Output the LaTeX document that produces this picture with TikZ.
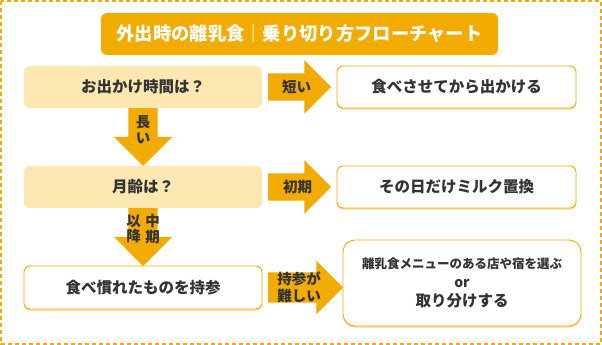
\documentclass[tikz,border=0pt]{standalone}
\usepackage{fontspec}
\setmainfont{Noto Sans CJK JP}
\usepackage{tikz}
\usetikzlibrary{positioning,shapes.arrows,calc}
\definecolor{Amber}{HTML}{F2AB00}
\definecolor{Cream}{HTML}{FDE8B1}
\definecolor{Shade}{HTML}{F8D98E}
\definecolor{Ink}{HTML}{333333}
\tikzset{
 box/.style={rounded corners=6pt,align=center,font=\fontsize{15.5}{18}\selectfont\bfseries,
   text=Ink,minimum width=238pt,minimum height=42pt,inner sep=0pt,outer sep=0pt},
 ask/.style={box,fill=Cream},
 answer/.style={box,draw=Amber,fill=white,line width=0.9pt,
   preaction={fill=Shade,transform canvas={yshift=-1.6pt}}},
 banner/.style={box,fill=Amber,text=white,font=\fontsize{18.3}{20}\selectfont\bfseries,
   minimum width=397pt},
 go/.style={single arrow,fill=Amber,draw=none,inner sep=13.5pt,outer sep=0pt,
   single arrow head extend=13pt,minimum height=63pt,anchor=tail},
 drop/.style={go,shape border rotate=270,inner sep=14.5pt,
   single arrow head extend=14.5pt,minimum height=58pt},
 tag/.style={font=\fontsize{14.5}{17}\selectfont\bfseries,text=Ink,inner sep=0pt,align=center},
 vtag/.style={tag,font=\fontsize{14.5}{15.5}\selectfont\bfseries},
 frame/.style={draw=Amber,line width=1.2pt,dash pattern=on 4pt off 3pt}
}
\begin{document}
\begin{tikzpicture}[x=1pt,y=-1pt]
\useasboundingbox (0,0) rectangle (602,345);
\draw[frame] (1,1) rectangle (601,344);
\node[banner] (head) at (299.5,34) {外出時の離乳食｜乗り切り方フローチャート};
% first question
\node[ask] (q1) at (143,87) {お出かけ時間は？};
\node[go] (a1) at ([xshift=6pt]q1.east) {};
\node[answer,minimum width=239pt,right=6pt of a1.tip] (r1) {食べさせてから出かける};
\node[tag] (t1) at ([xshift=28.5pt]a1.tail) {短い};
\node[drop] (d1) at (q1.south) {};
\node[vtag] (t4) at ([yshift=-21.5pt]d1.tail) {長\\い};
% second question
\node[ask,below=0pt of d1.tip] (q2) {月齢は？};
\node[go] (a2) at ([xshift=6pt]q2.east) {};
\node[answer,minimum width=239pt,right=6pt of a2.tip] (r2) {その日だけミルク置換};
\node[tag] (t2) at ([xshift=29.5pt]a2.tail) {初期};
\node[drop] (d2) at (q2.south) {};
\node[vtag] (t5) at ([xshift=-9.5pt,yshift=-21pt]d2.tail) {以\\降};
\node[vtag] (t6) at ([xshift=9.5pt,yshift=-21pt]d2.tail) {中\\期};
% third step
\node[answer,minimum height=43pt,below=0pt of d2.tip] (q3) {食べ慣れたものを持参};
\node[go,inner sep=15pt,single arrow head extend=11.5pt,minimum height=75pt] (a3) at ([xshift=6pt]q3.east) {};
\node[answer,minimum height=86pt,right=0pt of a3.tip,yshift=4.5pt,rounded corners=12pt,
  font=\fontsize{15.5}{19}\selectfont\bfseries] (r3)
  {{\fontsize{12.5}{19}\selectfont 離乳食メニューのある店や宿を選ぶ}\\
   {\fontsize{14}{19}\selectfont or}\\ 取り分けする};
\node[tag] (t3) at ([xshift=31pt]a3.tail) {持参が\\難しい};
\end{tikzpicture}
\end{document}
